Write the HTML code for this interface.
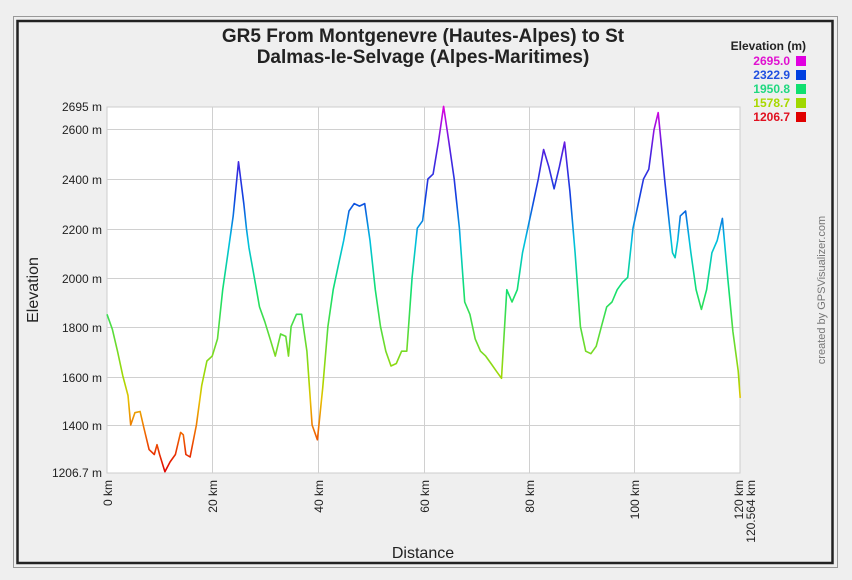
<!DOCTYPE html>
<html><head><meta charset="utf-8"><style>
html,body{margin:0;padding:0;background:#efefef;}
svg{display:block;font-family:"Liberation Sans",sans-serif;}
</style></head><body>
<svg width="852" height="580" viewBox="0 0 852 580" xmlns="http://www.w3.org/2000/svg">
<defs>
<linearGradient id="g" gradientUnits="userSpaceOnUse" x1="0" y1="472.6" x2="0" y2="106.4">
<stop offset="0" stop-color="#e00000"/>
<stop offset="0.1" stop-color="#f06000"/>
<stop offset="0.2" stop-color="#e8c000"/>
<stop offset="0.25" stop-color="#a8d800"/>
<stop offset="0.5" stop-color="#10e070"/>
<stop offset="0.63" stop-color="#00c0e0"/>
<stop offset="0.75" stop-color="#1040e0"/>
<stop offset="0.88" stop-color="#5020e0"/>
<stop offset="1" stop-color="#e000e0"/>
</linearGradient>
</defs>
<rect x="0" y="0" width="852" height="580" fill="#efefef"/>
<rect x="13.5" y="16.5" width="824" height="551" fill="none" stroke="#999" stroke-width="1"/>
<rect x="17.5" y="21" width="815" height="542" fill="none" stroke="#222" stroke-width="2.5"/>
<text x="423" y="42" font-size="19" font-weight="bold" text-anchor="middle" fill="#222">GR5 From Montgenevre (Hautes-Alpes) to St</text>
<text x="423" y="63" font-size="19" font-weight="bold" text-anchor="middle" fill="#222">Dalmas-le-Selvage (Alpes-Maritimes)</text>
<text x="806" y="50" font-size="12" font-weight="bold" text-anchor="end" fill="#222">Elevation (m)</text>
<g font-size="12" font-weight="bold" text-anchor="end">
<text x="790" y="65" fill="#e010d0">2695.0</text><rect x="796" y="56" width="10" height="10" fill="#e000e0"/>
<text x="790" y="79" fill="#2050e0">2322.9</text><rect x="796" y="70" width="10" height="10" fill="#0040e0"/>
<text x="790" y="93" fill="#20d880">1950.8</text><rect x="796" y="84" width="10" height="10" fill="#10e070"/>
<text x="790" y="107" fill="#a8d800">1578.7</text><rect x="796" y="98" width="10" height="10" fill="#a0d800"/>
<text x="790" y="121" fill="#e01020">1206.7</text><rect x="796" y="112" width="10" height="10" fill="#e00000"/>
</g>
<rect x="107" y="107" width="633" height="366" fill="#fff" stroke="#ccc"/>
<g stroke="#d0d0d0" stroke-width="1">
<line x1="107" y1="129.5" x2="740" y2="129.5"/><line x1="107" y1="179.5" x2="740" y2="179.5"/>
<line x1="107" y1="229.5" x2="740" y2="229.5"/><line x1="107" y1="278.5" x2="740" y2="278.5"/>
<line x1="107" y1="327.5" x2="740" y2="327.5"/><line x1="107" y1="377.5" x2="740" y2="377.5"/>
<line x1="107" y1="425.5" x2="740" y2="425.5"/>
<line x1="212.5" y1="107" x2="212.5" y2="473"/><line x1="318.5" y1="107" x2="318.5" y2="473"/>
<line x1="424.5" y1="107" x2="424.5" y2="473"/><line x1="529.5" y1="107" x2="529.5" y2="473"/>
<line x1="634.5" y1="107" x2="634.5" y2="473"/>
</g>
<g font-size="12" text-anchor="end" fill="#222">
<text x="102" y="111">2695 m</text><text x="102" y="134">2600 m</text><text x="102" y="184">2400 m</text>
<text x="102" y="234">2200 m</text><text x="102" y="283">2000 m</text><text x="102" y="332">1800 m</text>
<text x="102" y="382">1600 m</text><text x="102" y="430">1400 m</text><text x="102" y="477">1206.7 m</text>
</g>
<g font-size="12" text-anchor="end" fill="#222">
<text transform="translate(112,480) rotate(-90)">0 km</text>
<text transform="translate(217,480) rotate(-90)">20 km</text>
<text transform="translate(323,480) rotate(-90)">40 km</text>
<text transform="translate(429,480) rotate(-90)">60 km</text>
<text transform="translate(534,480) rotate(-90)">80 km</text>
<text transform="translate(639,480) rotate(-90)">100 km</text>
<text transform="translate(743,480) rotate(-90)">120 km</text>
<text transform="translate(755,480) rotate(-90)">120.564 km</text>
</g>
<text x="423" y="558" font-size="16" text-anchor="middle" fill="#222">Distance</text>
<text transform="translate(38,290) rotate(-90)" font-size="16" text-anchor="middle" fill="#222">Elevation</text>
<text transform="translate(825,290) rotate(-90)" font-size="11" text-anchor="middle" fill="#777">created by GPSVisualizer.com</text>
<polyline fill="none" stroke="url(#g)" stroke-width="1.6" stroke-linejoin="round" points="107,314.3 112.3,329.1 117.5,351.2 122.8,375.8 128,395.5 130.7,425 134.9,412.7 140.1,411.5 143.8,427.5 149.1,449.6 154.3,454.5 157,444.7 159.6,454.5 164.9,471.7 170.1,461.9 175.4,454.5 180.6,432.4 183.3,434.8 185.9,454.5 190.1,457 196.4,425 201.7,385.6 206.9,361 212.2,356.1 217.5,338.9 222.7,289.7 228,252.8 233.2,215.9 238.5,161.8 243.8,203.6 246.4,228.2 249,247.9 254.3,277.4 259.5,306.9 264.8,321.7 270.1,338.9 275.3,356.1 280.6,334 285.8,336.4 288.5,356.1 291.1,326.6 296.4,314.3 301.6,314.3 306.9,351.2 312.1,425 317.4,439.8 322.7,388.1 327.9,326.6 333.2,289.7 338.4,265.1 343.7,240.5 349,211 354.2,203.6 359.5,206.1 364.7,203.6 370,240.5 375.3,289.7 380.5,326.6 385.8,351.2 391,366 396.3,363.5 401.6,351.2 406.8,351.2 412.1,277.4 417.3,228.2 422.6,220.8 427.9,179 433.1,174.1 438.4,142.1 443.6,106.4 448.9,142.1 454.2,179 459.4,228.2 464.7,302 469.9,314.3 475.2,338.9 480.5,351.2 485.7,356.1 491,363.5 496.2,370.9 501.5,378.3 506.8,289.7 512,302 517.3,289.7 522.5,252.8 527.8,228.2 533.1,203.6 538.3,179 543.6,149.5 548.8,166.7 554.1,188.8 559.4,166.7 564.6,142.1 569.9,191.3 575.1,252.8 580.4,326.6 585.7,351.2 590.9,353.7 596.2,346.3 601.4,326.6 606.7,306.9 612,302 617.2,289.7 622.5,282.3 627.7,277.4 633,228.2 638.3,203.6 643.5,179 648.8,169.2 654,129.8 658.2,112.6 664.6,179 669.8,228.2 672.5,252.8 675.1,257.7 677.7,240.5 680.3,215.9 685.6,211 690.9,252.8 696.1,289.7 701.4,309.4 706.6,289.7 711.9,252.8 717.2,240.5 722.4,218.4 727.7,277.4 732.9,331.5 738.2,370.9 740.2,397.9"/>
</svg>
</body></html>
